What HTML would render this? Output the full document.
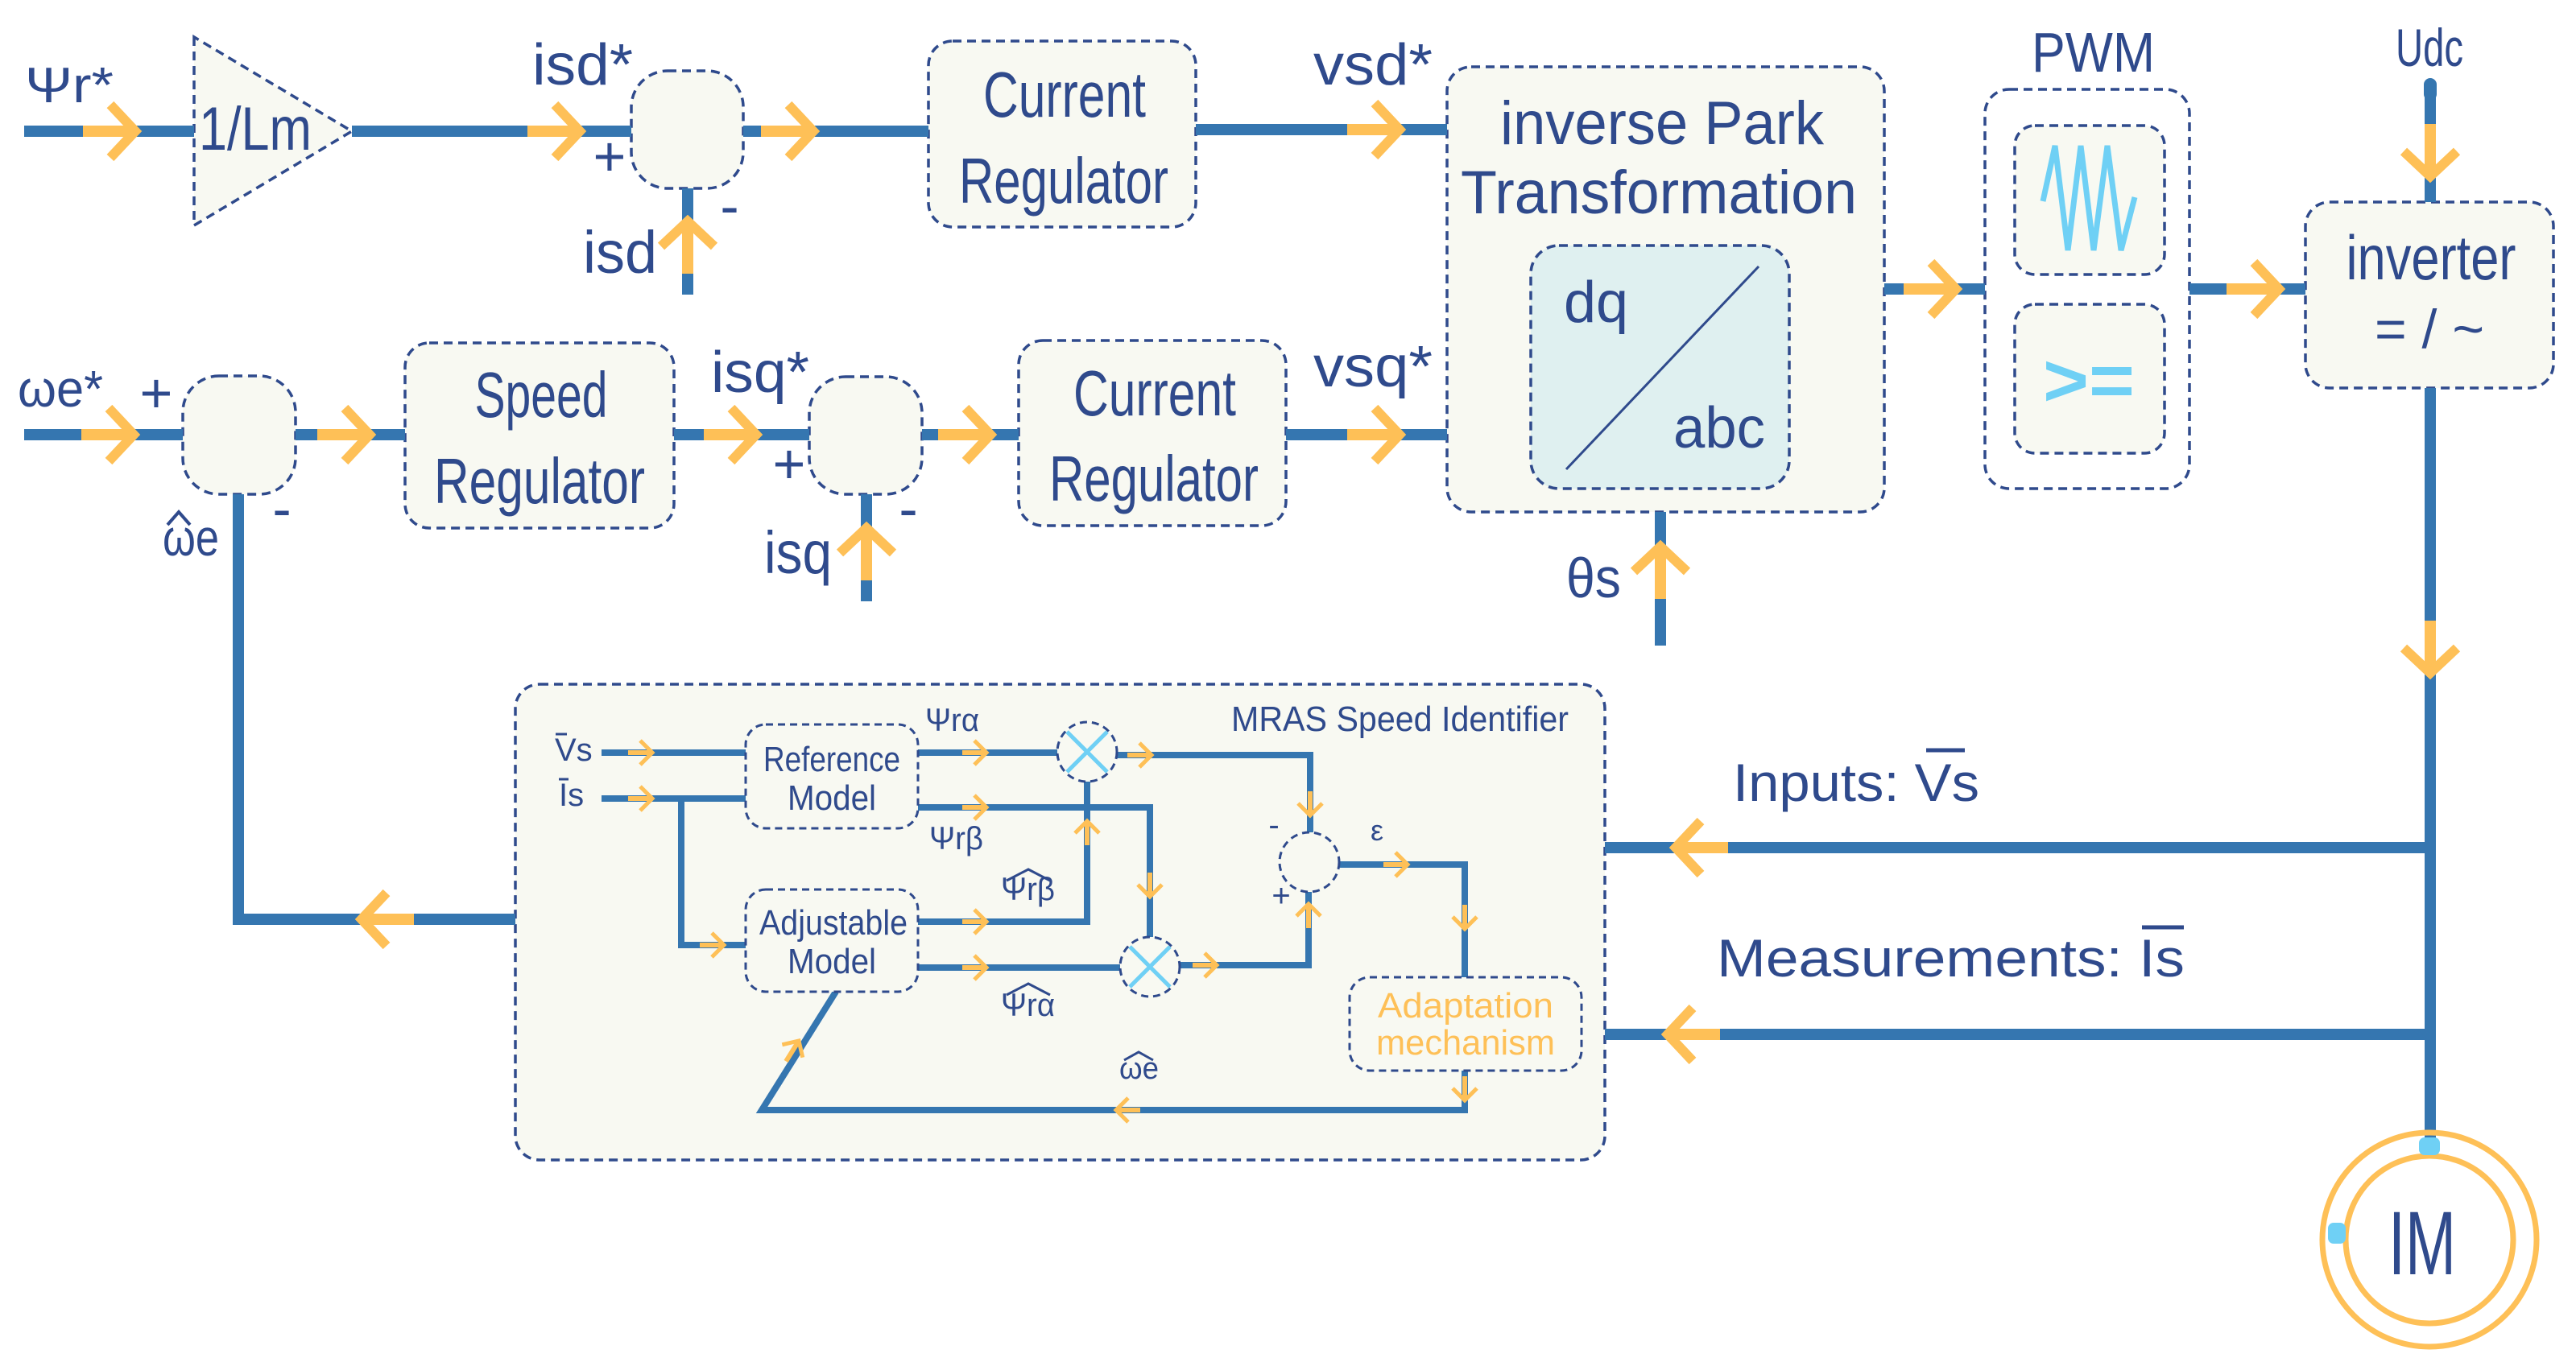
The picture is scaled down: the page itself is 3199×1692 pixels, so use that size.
<!DOCTYPE html>
<html><head><meta charset="utf-8"><style>
html,body{margin:0;padding:0;background:#fff;}
svg{display:block;}
text{font-family:"Liberation Sans",sans-serif;fill:#2f4a8c;}
</style></head><body>
<svg width="3199" height="1692" viewBox="0 0 3199 1692" xmlns="http://www.w3.org/2000/svg">
<defs>
<g id="A"><rect x="-65" y="-7" width="65" height="14" fill="#fec057"/><polyline points="-31,-33 0,0 -31,33" fill="none" stroke="#fec057" stroke-width="12"/></g>
<g id="a"><rect x="-30" y="-3" width="30" height="6" fill="#fec057"/><polyline points="-15,-15 0,0 -15,15" fill="none" stroke="#fec057" stroke-width="5"/></g>
</defs>
<g fill="#f8f9f2" stroke="#2f4a8c" stroke-width="3.5" stroke-dasharray="11 7">
<polygon points="241,46 241,280 437,163"/>
<rect x="784" y="88" width="139" height="146" rx="45"/>
<rect x="1153" y="51" width="332" height="231" rx="30"/>
<rect x="1797" y="83" width="543" height="553" rx="30"/>
<rect x="1901" y="305" width="321" height="302" rx="35" fill="#dff0f0"/>
<rect x="2465" y="111" width="254" height="496" rx="30" fill="none"/>
<rect x="2502" y="156" width="186" height="185" rx="25"/>
<rect x="2502" y="378" width="186" height="185" rx="25"/>
<rect x="2863" y="251" width="308" height="231" rx="30"/>
<rect x="227" y="467" width="140" height="147" rx="45"/>
<rect x="503" y="426" width="334" height="230" rx="30"/>
<rect x="1005" y="468" width="140" height="146" rx="45"/>
<rect x="1265" y="423" width="332" height="230" rx="30"/>
<rect x="640" y="850" width="1353" height="591" rx="30"/>
</g>
<g stroke="#3576b0" stroke-width="14" fill="none">
<line x1="30" y1="163" x2="241" y2="163"/>
<line x1="437" y1="163" x2="784" y2="163"/>
<line x1="923" y1="163" x2="1153" y2="163"/>
<line x1="1485" y1="161" x2="1797" y2="161"/>
<line x1="854" y1="234" x2="854" y2="366"/>
<line x1="2340" y1="359" x2="2465" y2="359"/>
<line x1="2719" y1="359" x2="2863" y2="359"/>
<line x1="3018" y1="105" x2="3018" y2="251"/>
<line x1="3018" y1="482" x2="3018" y2="1415"/>
<line x1="2062" y1="636" x2="2062" y2="802"/>
<line x1="30" y1="540" x2="227" y2="540"/>
<line x1="367" y1="540" x2="503" y2="540"/>
<line x1="837" y1="540" x2="1005" y2="540"/>
<line x1="1145" y1="540" x2="1265" y2="540"/>
<line x1="1597" y1="540" x2="1797" y2="540"/>
<line x1="1076" y1="614" x2="1076" y2="747"/>
<polyline points="296,614 296,1142 640,1142"/>
<line x1="1993" y1="1053" x2="3018" y2="1053"/>
<line x1="1993" y1="1285" x2="3018" y2="1285"/>
</g>
<rect x="3010" y="97" width="16" height="28" rx="8" fill="#3576b0"/>
<g stroke="#3576b0" stroke-width="8" fill="none">
<line x1="747" y1="935" x2="926" y2="935"/>
<line x1="747" y1="992" x2="926" y2="992"/>
<polyline points="846,992 846,1174 926,1174"/>
<line x1="1140" y1="935" x2="1313" y2="935"/>
<polyline points="1387,938 1627,938 1627,1034"/>
<polyline points="1140,1003 1428,1003 1428,1164"/>
<polyline points="1350,971 1350,1145 1140,1145"/>
<line x1="1140" y1="1202" x2="1391" y2="1202"/>
<polyline points="1465,1199 1625,1199 1625,1108"/>
<polyline points="1663,1074 1819,1074 1819,1214"/>
<polyline points="1819,1330 1819,1379 946,1379 1038,1232"/>
</g>
<g fill="#f8f9f2" stroke="#2f4a8c" stroke-width="3" stroke-dasharray="9 6">
<rect x="926" y="900" width="214" height="129" rx="25"/>
<rect x="926" y="1105" width="214" height="127" rx="25"/>
<rect x="1676" y="1214" width="288" height="116" rx="25"/>
<circle cx="1350" cy="934" r="37"/>
<circle cx="1428" cy="1201" r="37"/>
<circle cx="1626" cy="1071" r="37"/>
</g>
<g stroke="#6fd0f5" stroke-width="5">
<line x1="1325" y1="909" x2="1375" y2="959"/><line x1="1375" y1="909" x2="1325" y2="959"/>
<line x1="1403" y1="1176" x2="1453" y2="1226"/><line x1="1453" y1="1176" x2="1403" y2="1226"/>
</g>
<line x1="2184" y1="331" x2="1945" y2="583" stroke="#2f4a8c" stroke-width="3"/>
<polyline points="2537,250 2552,181 2568,311 2584,181 2600,311 2617,181 2634,311 2651,245" fill="none" stroke="#6fd0f5" stroke-width="7"/>
<use href="#A" transform="translate(168,163)"/>
<use href="#A" transform="translate(720,163)"/>
<use href="#A" transform="translate(1010,163)"/>
<use href="#A" transform="translate(1738,161)"/>
<use href="#A" transform="translate(854,275) rotate(-90)"/>
<use href="#A" transform="translate(2429,359)"/>
<use href="#A" transform="translate(2830,359)"/>
<use href="#A" transform="translate(3018,219) rotate(90)"/>
<use href="#A" transform="translate(3018,836) rotate(90)"/>
<use href="#A" transform="translate(2062,679) rotate(-90)"/>
<use href="#A" transform="translate(166,540)"/>
<use href="#A" transform="translate(459,540)"/>
<use href="#A" transform="translate(939,540)"/>
<use href="#A" transform="translate(1230,540)"/>
<use href="#A" transform="translate(1738,540)"/>
<use href="#A" transform="translate(1076,656) rotate(-90)"/>
<use href="#A" transform="translate(449,1142) rotate(180)"/>
<use href="#A" transform="translate(2081,1053) rotate(180)"/>
<use href="#A" transform="translate(2071,1285) rotate(180)"/>
<use href="#a" transform="translate(810,935)"/>
<use href="#a" transform="translate(810,992)"/>
<use href="#a" transform="translate(899,1174)"/>
<use href="#a" transform="translate(1225,935)"/>
<use href="#a" transform="translate(1225,1003)"/>
<use href="#a" transform="translate(1225,1145)"/>
<use href="#a" transform="translate(1225,1202)"/>
<use href="#a" transform="translate(1430,938)"/>
<use href="#a" transform="translate(1627,1013) rotate(90)"/>
<use href="#a" transform="translate(1428,1114) rotate(90)"/>
<use href="#a" transform="translate(1350,1020) rotate(-90)"/>
<use href="#a" transform="translate(1511,1199)"/>
<use href="#a" transform="translate(1625,1123) rotate(-90)"/>
<use href="#a" transform="translate(1748,1074)"/>
<use href="#a" transform="translate(1819,1154) rotate(90)"/>
<use href="#a" transform="translate(1819,1367) rotate(90)"/>
<use href="#a" transform="translate(1386,1379) rotate(180)"/>
<use href="#a" transform="translate(992,1293) rotate(-58)"/>
<circle cx="3017" cy="1540" r="133" fill="none" stroke="#fec057" stroke-width="7"/>
<circle cx="3017" cy="1540" r="104" fill="none" stroke="#fec057" stroke-width="7"/>
<rect x="3004" y="1413" width="26" height="22" rx="7" fill="#6fd0f5"/>
<rect x="2891" y="1519" width="22" height="26" rx="7" fill="#6fd0f5"/>
<text x="3008" y="1583" font-size="112" text-anchor="middle" textLength="84" lengthAdjust="spacingAndGlyphs">IM</text>
<text x="31" y="127" font-size="62" textLength="110" lengthAdjust="spacingAndGlyphs">Ψr*</text>
<text x="247" y="186" font-size="76" textLength="140" lengthAdjust="spacingAndGlyphs">1/Lm</text>
<text x="661" y="105" font-size="72" textLength="125" lengthAdjust="spacingAndGlyphs">isd*</text>
<text x="757" y="218" font-size="70" text-anchor="middle">+</text>
<text x="906" y="280" font-size="70" text-anchor="middle">-</text>
<text x="724" y="339" font-size="74" textLength="92" lengthAdjust="spacingAndGlyphs">isd</text>
<text x="1322" y="145" font-size="80" text-anchor="middle" textLength="202" lengthAdjust="spacingAndGlyphs">Current</text>
<text x="1321" y="252" font-size="80" text-anchor="middle" textLength="260" lengthAdjust="spacingAndGlyphs">Regulator</text>
<text x="1631" y="105" font-size="72" textLength="148" lengthAdjust="spacingAndGlyphs">vsd*</text>
<text x="2064" y="179" font-size="76" text-anchor="middle" textLength="402" lengthAdjust="spacingAndGlyphs">inverse Park</text>
<text x="2060" y="265" font-size="76" text-anchor="middle" textLength="492" lengthAdjust="spacingAndGlyphs">Transformation</text>
<text x="1942" y="400" font-size="72">dq</text>
<text x="2078" y="556" font-size="72" textLength="114" lengthAdjust="spacingAndGlyphs">abc</text>
<text x="2523" y="89" font-size="70" textLength="153" lengthAdjust="spacingAndGlyphs">PWM</text>
<text x="2537" y="504" font-size="92" style="fill:#6fd0f5" font-weight="bold" textLength="114" lengthAdjust="spacingAndGlyphs">&gt;=</text>
<text x="2975" y="82" font-size="66" textLength="84" lengthAdjust="spacingAndGlyphs">Udc</text>
<text x="3019" y="347" font-size="78" text-anchor="middle" textLength="211" lengthAdjust="spacingAndGlyphs">inverter</text>
<text x="3017" y="432" font-size="68" text-anchor="middle">= / ~</text>
<text x="1945" y="742" font-size="70" textLength="68" lengthAdjust="spacingAndGlyphs">θs</text>
<text x="22" y="505" font-size="64" textLength="106" lengthAdjust="spacingAndGlyphs">ωe*</text>
<text x="194" y="512" font-size="70" text-anchor="middle">+</text>
<text x="350" y="656" font-size="70" text-anchor="middle">-</text>
<text x="202" y="690" font-size="64" textLength="70" lengthAdjust="spacingAndGlyphs">ωe</text>
<polyline points="208,652 222,636 236,652" fill="none" stroke="#2f4a8c" stroke-width="4"/>
<text x="672" y="518" font-size="80" text-anchor="middle" textLength="165" lengthAdjust="spacingAndGlyphs">Speed</text>
<text x="670" y="625" font-size="80" text-anchor="middle" textLength="262" lengthAdjust="spacingAndGlyphs">Regulator</text>
<text x="883" y="487" font-size="72" textLength="122" lengthAdjust="spacingAndGlyphs">isq*</text>
<text x="980" y="600" font-size="70" text-anchor="middle">+</text>
<text x="1128" y="656" font-size="70" text-anchor="middle">-</text>
<text x="949" y="712" font-size="74" textLength="84" lengthAdjust="spacingAndGlyphs">isq</text>
<text x="1434" y="516" font-size="80" text-anchor="middle" textLength="202" lengthAdjust="spacingAndGlyphs">Current</text>
<text x="1433" y="622" font-size="80" text-anchor="middle" textLength="260" lengthAdjust="spacingAndGlyphs">Regulator</text>
<text x="1631" y="480" font-size="72" textLength="148" lengthAdjust="spacingAndGlyphs">vsq*</text>
<text x="2152" y="995" font-size="66" textLength="306" lengthAdjust="spacingAndGlyphs">Inputs: Vs</text>
<line x1="2392" y1="932" x2="2440" y2="932" stroke="#2f4a8c" stroke-width="5"/>
<text x="2132" y="1213" font-size="66" textLength="581" lengthAdjust="spacingAndGlyphs">Measurements: Is</text>
<line x1="2660" y1="1152" x2="2712" y2="1152" stroke="#2f4a8c" stroke-width="5"/>
<text x="1529" y="908" font-size="44" textLength="419" lengthAdjust="spacingAndGlyphs">MRAS Speed Identifier</text>
<text x="689" y="945" font-size="40">Vs</text>
<line x1="690" y1="912" x2="704" y2="912" stroke="#2f4a8c" stroke-width="3"/>
<text x="694" y="1001" font-size="40">Is</text>
<line x1="694" y1="968" x2="706" y2="968" stroke="#2f4a8c" stroke-width="3"/>
<text x="1033" y="958" font-size="44" text-anchor="middle" textLength="170" lengthAdjust="spacingAndGlyphs">Reference</text>
<text x="1033" y="1006" font-size="44" text-anchor="middle" textLength="110" lengthAdjust="spacingAndGlyphs">Model</text>
<text x="1035" y="1161" font-size="44" text-anchor="middle" textLength="184" lengthAdjust="spacingAndGlyphs">Adjustable</text>
<text x="1033" y="1209" font-size="44" text-anchor="middle" textLength="110" lengthAdjust="spacingAndGlyphs">Model</text>
<text x="1149" y="908" font-size="40" textLength="67" lengthAdjust="spacingAndGlyphs">Ψrα</text>
<text x="1154" y="1055" font-size="40" textLength="67" lengthAdjust="spacingAndGlyphs">Ψrβ</text>
<text x="1243" y="1118" font-size="40" textLength="67" lengthAdjust="spacingAndGlyphs">Ψrβ</text>
<polyline points="1250,1094 1277,1080 1304,1094" fill="none" stroke="#2f4a8c" stroke-width="3"/>
<text x="1243" y="1262" font-size="40" textLength="67" lengthAdjust="spacingAndGlyphs">Ψrα</text>
<polyline points="1250,1236 1277,1222 1304,1236" fill="none" stroke="#2f4a8c" stroke-width="3"/>
<text x="1390" y="1340" font-size="38" textLength="49" lengthAdjust="spacingAndGlyphs">ωe</text>
<polyline points="1396,1317 1414,1307 1432,1317" fill="none" stroke="#2f4a8c" stroke-width="3"/>
<text x="1582" y="1038" font-size="40" text-anchor="middle">-</text>
<text x="1591" y="1126" font-size="40" text-anchor="middle">+</text>
<text x="1702" y="1044" font-size="36">ε</text>
<text x="1820" y="1264" font-size="44" text-anchor="middle" style="fill:#fec057" textLength="218" lengthAdjust="spacingAndGlyphs">Adaptation</text>
<text x="1820" y="1310" font-size="44" text-anchor="middle" style="fill:#fec057" textLength="222" lengthAdjust="spacingAndGlyphs">mechanism</text>
</svg>
</body></html>
